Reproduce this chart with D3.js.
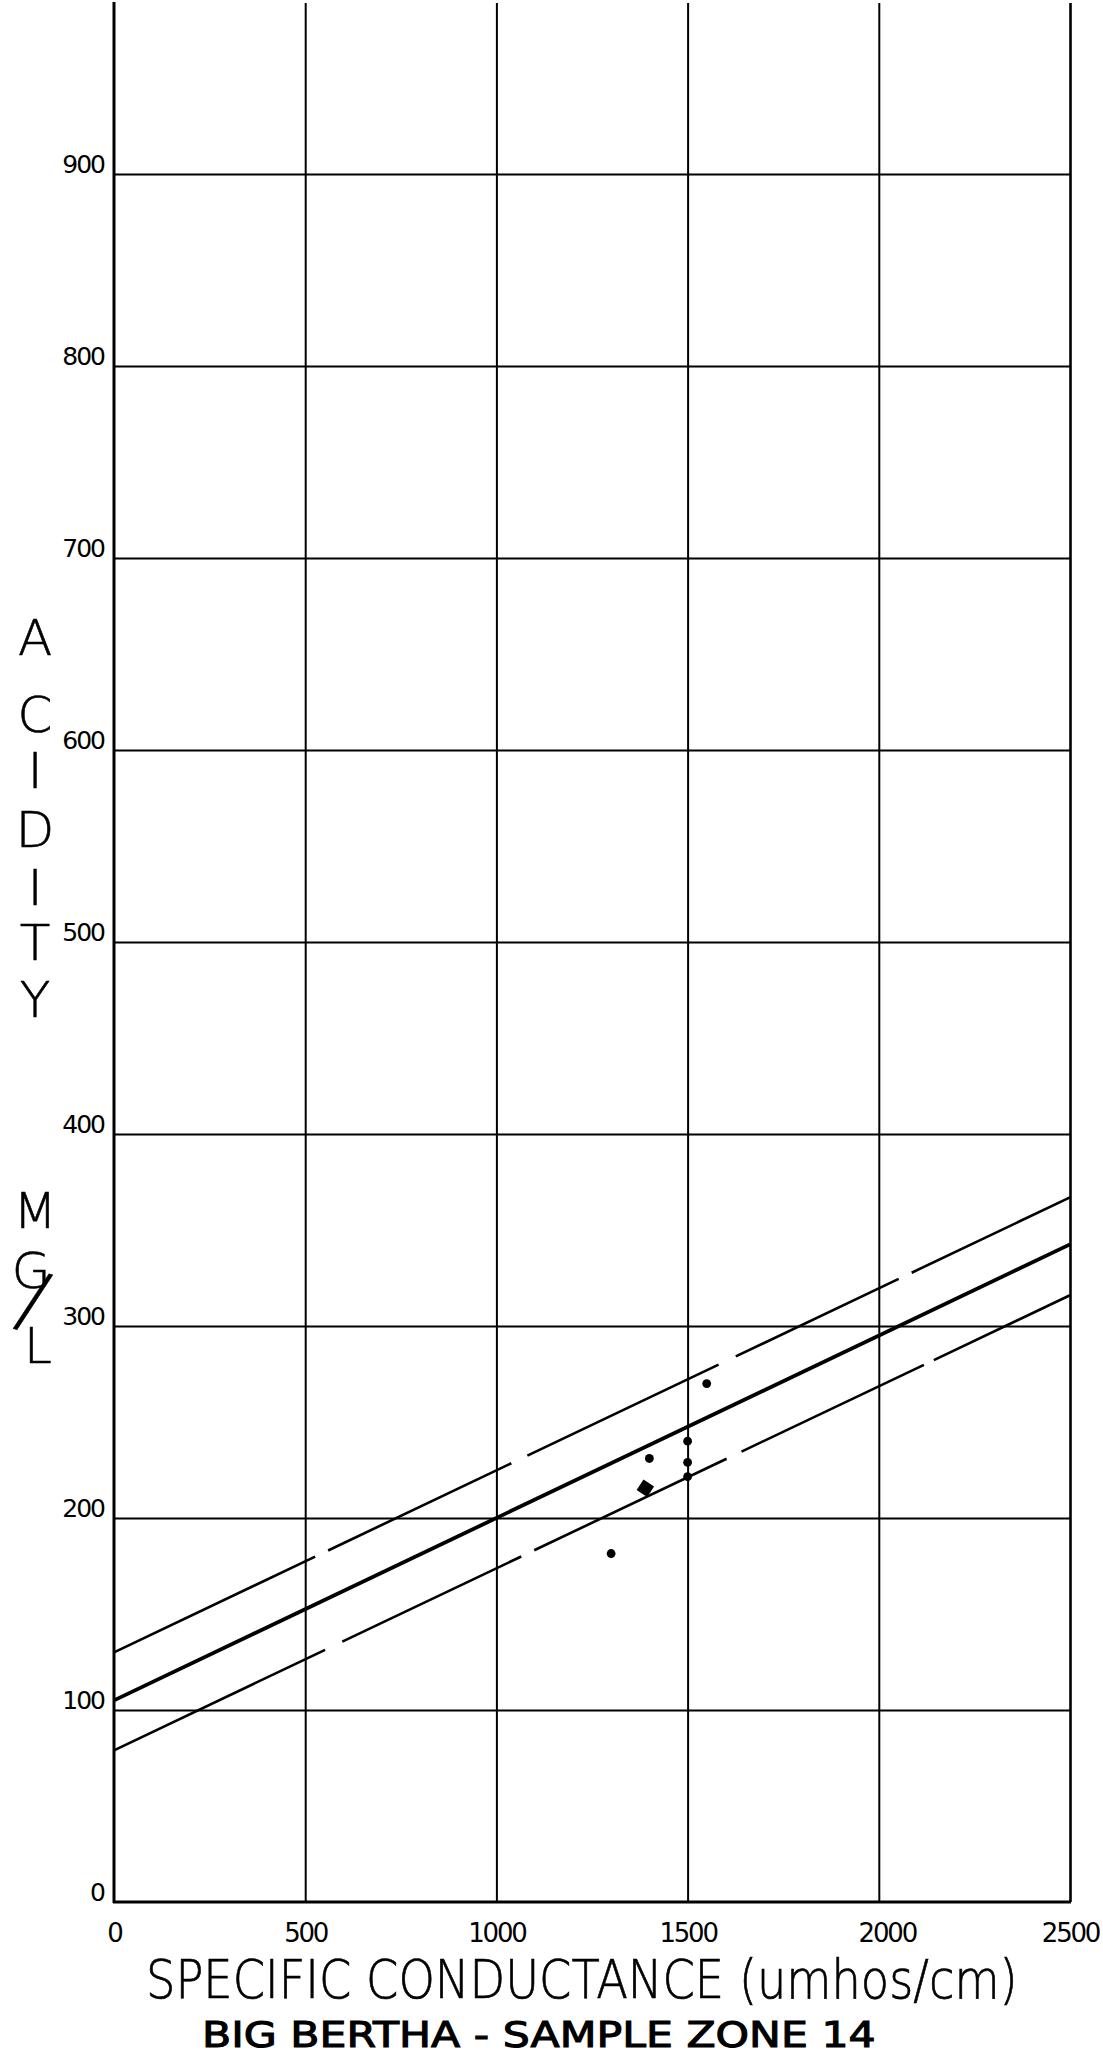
<!DOCTYPE html>
<html>
<head>
<meta charset="utf-8">
<script src="https://cdn.jsdelivr.net/npm/d3@7"></script>
<style>
  html, body { margin: 0; padding: 0; background: #fff; }
  svg { display: block; }
  text { font-family: "DejaVu Sans", "Liberation Sans", sans-serif; fill: #000; }
</style>
</head>
<body>
<svg id="chart" width="1103" height="2057"></svg>
<script>
// ---------------- data ----------------
const xTicks = [0, 500, 1000, 1500, 2000, 2500];
const yTicks = [0, 100, 200, 300, 400, 500, 600, 700, 800, 900];
const xTickLabels = ["0", "500", "1000", "1500", "2000", "2500"];
const yTickLabels = ["0", "100", "200", "300", "400", "500", "600", "700", "800", "900"];

// regression line and its upper/lower limits (conductance, acidity)
const centerLine = [[0, 105], [2500, 342.5]];
const upperLine  = [[0, 130], [2500, 367]];
const lowerLine  = [[0, 79],  [2500, 316]];
// breaks in the dashed limit lines (conductance ranges)
const upperGaps = [[526, 560], [1039, 1081], [1581, 1626], [2052, 2086]];
const lowerGaps = [[552, 597], [1065, 1099], [1602, 1641], [2118, 2144]];

// sample points (conductance, acidity)
const samples = [
  [1550, 270],
  [1500, 240],
  [1400, 231],
  [1500, 229],
  [1500, 221.5],
  [1300, 181.5]
];
// overlapping samples drawn as a block
const cluster = [[1400, 215.5]];

const yTitleLetters = ["A", "C", "I", "D", "I", "T", "Y"];
const unitLetters = ["M", "G", "L"];
const xTitle = "SPECIFIC CONDUCTANCE (umhos/cm)";
const subTitle = "BIG BERTHA - SAMPLE ZONE 14";

// ---------------- layout ----------------
const svg = d3.select("#chart");
const x = d3.scaleLinear().domain([0, 2500]).range([114, 1070]);
const y = d3.scaleLinear().domain([0, 990]).range([1902, 1902 - 990 * 1.92]);
const plotTop = 3;

// vertical grid lines (incl. right border)
const gx = svg.append("g")
  .attr("transform", `translate(0,${y(0)})`)
  .call(d3.axisBottom(x).tickValues(xTicks.slice(1)).tickSize(-(y(0) - plotTop)).tickFormat(""));
gx.select(".domain").remove();
gx.selectAll(".tick line").attr("stroke", "#000").attr("stroke-width", 2);
gx.selectAll(".tick").filter(d => d === 2500).select("line").attr("stroke-width", 2.6);

// horizontal grid lines
const gy = svg.append("g")
  .attr("transform", `translate(${x(0)},0)`)
  .call(d3.axisLeft(y).tickValues(yTicks.slice(1)).tickSize(-(x(2500) - x(0))).tickFormat(""));
gy.select(".domain").remove();
gy.selectAll(".tick line").attr("stroke", "#000").attr("stroke-width", 2.2);

// main axes lines
svg.append("line")
  .attr("x1", x(0)).attr("x2", x(0)).attr("y1", plotTop - 1).attr("y2", y(0) + 1)
  .attr("stroke", "#000").attr("stroke-width", 3);
svg.append("line")
  .attr("x1", x(0) - 1).attr("x2", x(2500) + 1).attr("y1", y(0)).attr("y2", y(0))
  .attr("stroke", "#000").attr("stroke-width", 3.2);

// tick labels via axes
const ax = svg.append("g")
  .attr("transform", `translate(0,${y(0)})`)
  .call(d3.axisBottom(x).tickValues(xTicks).tickSize(0).tickFormat((d, i) => xTickLabels[i]));
ax.select(".domain").remove();
ax.selectAll("text")
  .attr("y", 40).attr("dy", 0)
  .attr("font-size", 26).attr("letter-spacing", -2.2)
  .attr("font-family", "DejaVu Sans").attr("fill", "#000");
ax.selectAll(".tick").filter(d => d === 2000).select("text").attr("dx", 8);

const ay = svg.append("g")
  .attr("transform", `translate(${x(0)},0)`)
  .call(d3.axisLeft(y).tickValues(yTicks).tickSize(0).tickFormat((d, i) => yTickLabels[i]));
ay.select(".domain").remove();
ay.selectAll("text")
  .attr("x", -10).attr("dy", -2)
  .attr("dominant-baseline", "auto")
  .attr("font-size", 25).attr("letter-spacing", -2)
  .attr("font-family", "DejaVu Sans").attr("fill", "#000");

// regression lines
const lineGen = d3.line().x(d => x(d[0])).y(d => y(d[1]));

function dashedLine(pts, gaps, width) {
  const p = svg.append("path")
    .attr("d", lineGen(pts))
    .attr("fill", "none").attr("stroke", "#000")
    .attr("stroke-width", width).attr("stroke-linecap", "butt");
  const L = p.node().getTotalLength();
  const k = L / (x(pts[1][0]) - x(pts[0][0]));
  const arr = [];
  let pos = x(pts[0][0]);
  gaps.forEach(g => {
    arr.push((x(g[0]) - pos) * k, (x(g[1]) - x(g[0])) * k);
    pos = x(g[1]);
  });
  arr.push((x(pts[1][0]) - pos) * k + 10, 0);
  p.attr("stroke-dasharray", arr.join(" "));
}
dashedLine(upperLine, upperGaps, 2.6);
dashedLine(lowerLine, lowerGaps, 2.6);
svg.append("path")
  .attr("d", lineGen(centerLine))
  .attr("fill", "none").attr("stroke", "#000").attr("stroke-width", 3.8);

// sample points
svg.append("g").selectAll("circle")
  .data(samples).join("circle")
  .attr("cx", d => x(d[0])).attr("cy", d => y(d[1]))
  .attr("r", 4.4).attr("fill", "#000");
svg.append("g").selectAll("path")
  .data(cluster).join("path")
  .attr("d", d3.symbol().type(d3.symbolSquare).size(160))
  .attr("transform", d => `translate(${x(d[0]) - 4},${y(d[1])}) rotate(33)`)
  .attr("fill", "#000");

// vertical axis title (stacked letters)
const letterBase = [655, 732, 788, 847, 905, 960, 1017];
svg.append("g").selectAll("text")
  .data(yTitleLetters).join("text")
  .attr("x", 35).attr("y", (d, i) => letterBase[i])
  .attr("text-anchor", "middle")
  .attr("font-size", 50).attr("font-weight", 200)
  .attr("stroke", "#000").attr("stroke-width", 0.6)
  .text(d => d);

const unitBase = [1228, 1288, 1363];
const unitX = [35, 31, 38];
svg.append("g").selectAll("text")
  .data(unitLetters).join("text")
  .attr("x", (d, i) => unitX[i]).attr("y", (d, i) => unitBase[i])
  .attr("text-anchor", "middle")
  .attr("font-size", 50).attr("font-weight", 200)
  .attr("stroke", "#000").attr("stroke-width", 0.6)
  .text(d => d);
svg.append("text")
  .attr("transform", "translate(33,1302) rotate(16)")
  .attr("x", 0).attr("y", 24)
  .attr("text-anchor", "middle")
  .attr("font-size", 76).attr("font-weight", 200)
  .attr("stroke", "#000").attr("stroke-width", 0.6)
  .text("/");

// x axis title and subtitle, squeezed horizontally to the reference width
function fitText(txt, left, base, size, weight, width, sw) {
  const t = svg.append("text")
    .attr("x", 0).attr("y", 0)
    .attr("font-size", size).attr("font-weight", weight)
    .attr("stroke", "#000").attr("stroke-width", sw)
    .text(txt);
  const w = t.node().getComputedTextLength();
  t.attr("transform", `translate(${left},${base}) scale(${width / w},1)`);
}
fitText(xTitle, 146, 1998, 53, 200, 872, 0.7);
fitText(subTitle, 202, 2047, 36, "normal", 674, 1.1);
</script>
</body>
</html>
